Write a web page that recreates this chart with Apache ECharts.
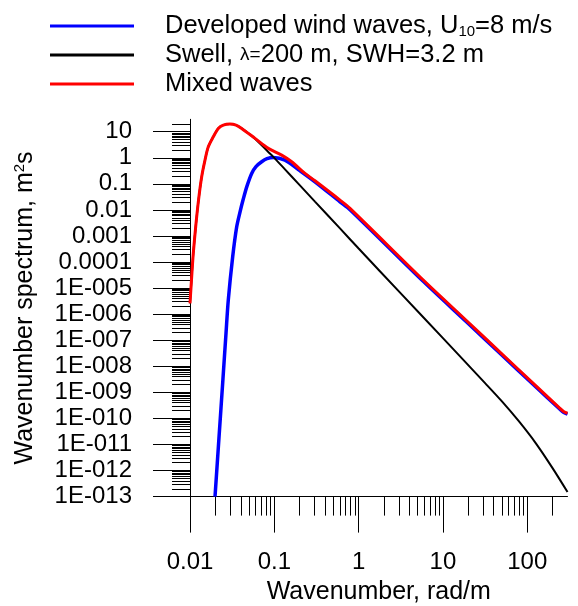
<!DOCTYPE html>
<html><head><meta charset="utf-8">
<script src="https://cdn.jsdelivr.net/npm/echarts@6/dist/echarts.min.js"></script>
<style>html,body{margin:0;padding:0;background:#fff}#c{width:578px;height:606px}</style>
</head><body><div id="c"></div>
<script>
const FONT = '"Liberation Sans", Arial, Helvetica, sans-serif';

const xTickValues = [0.01, 0.1, 1, 10, 100];
const xTickLabels = ['0.01', '0.1', '1', '10', '100'];
const yTickValues = [1e-13, 1e-12, 1e-11, 1e-10, 1e-9, 1e-8, 1e-7, 1e-6, 1e-5, 1e-4, 1e-3, 1e-2, 1e-1, 1, 10];
const yTickLabels = ['1E-013', '1E-012', '1E-011', '1E-010', '1E-009', '1E-008', '1E-007', '1E-006', '1E-005', '0.0001', '0.001', '0.01', '0.1', '1', '10'];

const seriesNames = ['wind', 'swell', 'mixed'];
const legendTexts = [
  '{a|Developed wind waves, U}{sub|10}{a|=8 m/s}',
  '{a|Swell, }{l|λ=}{a|200 m, SWH=3.2 m}',
  '{a|Mixed waves}'
];

const windK = [0.0198, 0.02208, 0.0246, 0.02674, 0.02845, 0.03208, 0.0358, 0.03917, 0.04285, 0.0474, 0.0539, 0.0606, 0.0708, 0.0818, 0.0972, 0.1338, 0.1924, 0.3035, 0.601, 0.790, 5.84, 19.1, 47.4, 117.8, 244, 272, 300];
const windS = [1e-13, 1.86e-11, 3.3e-9, 1.89e-7, 3.48e-6, 1.59e-4, 2.25e-3, 8.26e-3, 0.0261, 0.0821, 0.252, 0.46, 0.703, 0.924, 1.035, 0.816, 0.355, 0.12, 0.0205, 0.0102, 1.82e-5, 5.0e-7, 3.16e-8, 2.0e-9, 2.24e-10, 1.67e-10, 1.45e-10];

const swellK = [0.0100, 0.01047, 0.01094, 0.01168, 0.01262, 0.01376, 0.01506, 0.01648, 0.01889, 0.02166, 0.02483, 0.0298, 0.0351, 0.0410, 0.059, 0.0848, 0.0972, 0.1338, 0.1924, 0.3035, 0.601, 1.0, 3.16, 10, 31.6, 50.1, 79.4, 125.9, 199.5, 300];
const swellS = [2.6e-6, 2.72e-5, 2.15e-4, 2.25e-3, 0.0238, 0.187, 0.816, 2.64, 6.4, 13.4, 17.9, 19.6, 17.9, 13.4, 5.4, 1.68, 1.09, 0.36, 0.1016, 0.0209, 1.96e-3, 3.3e-4, 6.3e-6, 1.2e-7, 2.26e-9, 4.5e-10, 7.8e-11, 1.13e-11, 1.24e-12, 1.5e-13];

const mixedK = [0.0100, 0.01047, 0.01094, 0.01168, 0.01262, 0.01376, 0.01506, 0.01648, 0.01889, 0.02166, 0.02483, 0.0298, 0.0351, 0.0410, 0.059, 0.0848, 0.1223, 0.1607, 0.231, 0.3035, 0.601, 0.790, 5.84, 19.1, 47.4, 117.8, 244, 272, 300];
const mixedS = [2.6e-6, 2.72e-5, 2.15e-4, 2.25e-3, 0.0238, 0.187, 0.816, 2.64, 6.4, 13.4, 17.9, 19.6, 17.9, 13.4, 5.55, 2.30, 1.27, 0.703, 0.252, 0.131, 0.0238, 0.01146, 2.04e-5, 5.6e-7, 3.5e-8, 2.2e-9, 2.44e-10, 1.79e-10, 1.58e-10];

function pairs(k, s) { return k.map((v, i) => [v, s[i]]); }
function nearestLabel(vals, labels, v) {
  let best = 0, bd = Infinity;
  vals.forEach((t, i) => { const d = Math.abs(Math.log10(t) - Math.log10(v)); if (d < bd) { bd = d; best = i; } });
  return labels[best];
}

const chart = echarts.init(document.getElementById('c'), null, {renderer: 'canvas'});
const txt = {fontFamily: FONT, color: '#000'};
chart.setOption({
  animation: false,
  backgroundColor: '#fff',
  textStyle: {fontFamily: FONT},
  grid: {left: 190, right: 10.5, top: 119.3, bottom: 109.4, containLabel: false, outerBoundsMode: 'none'},
  legend: {
    orient: 'vertical', left: 50, top: 11, padding: 0,
    itemWidth: 84, itemHeight: 3, icon: 'rect', itemGap: 3,
    selectedMode: false,
    data: seriesNames,
    formatter: function (name) { return legendTexts[seriesNames.indexOf(name)]; },
    textStyle: {
      fontFamily: FONT, fontSize: 25.5, color: '#000', padding: [0, 0, 0, 26],
      rich: {
        a: {fontFamily: FONT, fontSize: 25.5, lineHeight: 26, color: '#000', verticalAlign: 'top'},
        sub: {fontFamily: FONT, fontSize: 15, lineHeight: 15, color: '#000', verticalAlign: 'bottom', padding: [13, 0, 0, 0]},
        l: {fontFamily: FONT, fontSize: 19, lineHeight: 19, color: '#000', verticalAlign: 'top', padding: [3, 0, 0, 0]}
      }
    }
  },
  xAxis: {
    type: 'log', logBase: 10, min: 0.01, max: 300, interval: 1,
    name: 'Wavenumber, rad/m', nameLocation: 'middle', nameGap: 77,
    nameTextStyle: Object.assign({fontSize: 25}, txt),
    axisLine: {show: true, onZero: false, lineStyle: {color: '#000', width: 1}},
    axisTick: {show: true, inside: false, length: 36, lineStyle: {color: '#000', width: 1}, customValues: xTickValues},
    minorTick: {show: true, splitNumber: 9, length: 19, lineStyle: {color: '#000', width: 1}},
    axisLabel: Object.assign({fontSize: 24, margin: 54, customValues: xTickValues,
      formatter: function (v) { return nearestLabel(xTickValues, xTickLabels, v); }}, txt),
    splitLine: {show: false}, minorSplitLine: {show: false}
  },
  yAxis: {
    type: 'log', logBase: 10, min: 1e-13, max: 30, interval: 1,
    name: '{a|Wavenumber spectrum, m}{sup|2}{a|s}', nameLocation: 'middle', nameGap: 152, nameRotate: 90,
    nameTextStyle: Object.assign({fontSize: 25, rich: {
      a: {fontFamily: FONT, fontSize: 25, lineHeight: 26, color: '#000', verticalAlign: 'middle'},
      sup: {fontFamily: FONT, fontSize: 15, lineHeight: 15, color: '#000', verticalAlign: 'top'}
    }}, txt),
    axisLine: {show: true, onZero: false, lineStyle: {color: '#000', width: 1}},
    axisTick: {show: true, inside: false, length: 37, lineStyle: {color: '#000', width: 1}, customValues: yTickValues},
    minorTick: {show: true, splitNumber: 9, length: 18, lineStyle: {color: '#000', width: 1}},
    axisLabel: Object.assign({fontSize: 24, margin: 58, padding: [0, 0, 9, 0], customValues: yTickValues,
      formatter: function (v) { return nearestLabel(yTickValues, yTickLabels, v); }}, txt),
    splitLine: {show: false}, minorSplitLine: {show: false}
  },
  series: [
    {name: 'wind', type: 'line', data: pairs(windK, windS), showSymbol: false, symbol: 'none', smooth: 0.3,
      color: '#0000ff', lineStyle: {color: '#0000ff', width: 3.5}, z: 2},
    {name: 'swell', type: 'line', data: pairs(swellK, swellS), showSymbol: false, symbol: 'none', smooth: 0.3,
      color: '#000000', lineStyle: {color: '#000000', width: 2}, z: 3},
    {name: 'mixed', type: 'line', data: pairs(mixedK, mixedS), showSymbol: false, symbol: 'none', smooth: 0.3,
      color: '#ff0000', lineStyle: {color: '#ff0000', width: 3}, z: 4}
  ]
});
</script></body></html>
